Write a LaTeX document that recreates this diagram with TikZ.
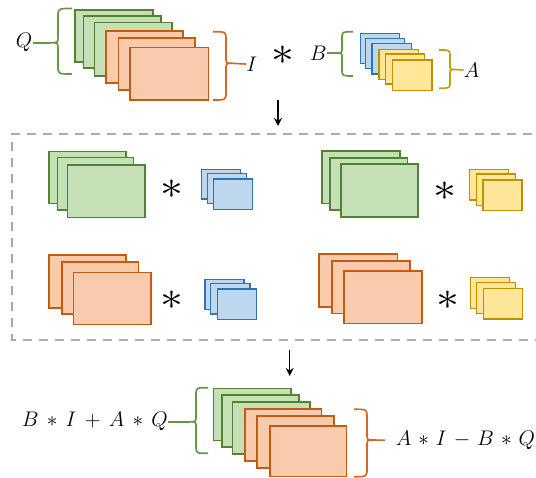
\documentclass[tikz,border=0pt]{standalone}
\usetikzlibrary{arrows.meta}
\definecolor{gfill}{HTML}{C5E0B4}
\definecolor{gdraw}{HTML}{548235}
\definecolor{ofill}{HTML}{F8CBAD}
\definecolor{odraw}{HTML}{C55A11}
\definecolor{bfill}{HTML}{BDD7EE}
\definecolor{bdraw}{HTML}{2E75B6}
\definecolor{yfill}{HTML}{FFE699}
\definecolor{ydraw}{HTML}{BF9000}
\definecolor{brgreen}{HTML}{649845}
\definecolor{brorange}{HTML}{D06A22}
\definecolor{brgold}{HTML}{C99A12}
\definecolor{dashgray}{HTML}{AAAAAA}
% #1 end x, #2 spine x, #3 tip x, #4 top y, #5 tip y, #6 bottom y, #7 end radius, #8 tip radius, #9 style
\newcommand\mybrace[9]{\draw[#9] (#1,#4) .. controls (#2,#4) .. (#2,#4+#7) -- (#2,#5-#8) .. controls (#2,#5) .. (#3,#5) .. controls (#2,#5) .. (#2,#5+#8) -- (#2,#6-#7) .. controls (#2,#6) .. (#1,#6);}
\tikzset{
  gbox/.style={fill=gfill,draw=gdraw,line width=1.2pt},
  obox/.style={fill=ofill,draw=odraw,line width=1.2pt},
  bbox/.style={fill=bfill,draw=bdraw,line width=1.1pt},
  ybox/.style={fill=yfill,draw=ydraw,line width=1.1pt},
  brace/.style={line width=1.25pt},
  lbl/.style={inner sep=0pt,font=\fontsize{14.4}{16}\selectfont,scale=1.1},
  bigstar/.style={inner sep=0pt,font=\fontsize{24.88}{26}\selectfont,xscale=1.38,yscale=1.2},
  arr/.style={line width=1pt,-{Stealth[length=6pt,width=6pt]}},
  dashbox/.style={draw=dashgray,line width=1.5pt,dash pattern=on 6.8pt off 5.2pt}
}
\begin{document}
\begin{tikzpicture}[x=0.75pt,y=-0.75pt]
\useasboundingbox (0,0) rectangle (536,478);

% ---------- top group: Q and I ----------
\draw[gbox] (75,10) rectangle (152.7,62.3);
\draw[gbox] (83.3,16) rectangle (161,68.3);
\draw[gbox] (94.3,22.7) rectangle (171.7,76);
\draw[obox] (106,31) rectangle (183,83);
\draw[obox] (118.3,38.3) rectangle (195,90.3);
\draw[obox] (130,47.7) rectangle (208.3,100);

\mybrace{72}{58}{50}{8.5}{42.7}{74}{8}{6}{brace,brgreen}
\coordinate (Qtip) at (50,42.7);
\node[lbl,anchor=east] (Q) at (32.5,42.7) {$Q$};
\draw[brace,brgreen] (Q.east) -- (Qtip);

\mybrace{213}{226}{232}{31.7}{63.3}{100}{8}{6}{brace,brorange}
\coordinate (Itip) at (232,63.3);
\node[lbl,anchor=west] (I) at (246,64) {$I$};
\draw[brace,brorange] (Itip) -- (I.west);

\node[bigstar] (s0) at (283,55) {$\ast$};

% ---------- top group: B and A ----------
\draw[bbox] (360.3,33.3) rectangle (399.7,63.3);
\draw[bbox] (365.3,38.3) rectangle (404.7,68.3);
\draw[bbox] (372,43.3) rectangle (411.3,74);
\draw[ybox] (379,49.3) rectangle (418.7,79.3);
\draw[ybox] (385.3,54) rectangle (424.7,84);
\draw[ybox] (392.3,60) rectangle (432,90.7);

\mybrace{353}{342}{336}{31.7}{53}{76}{7}{5}{brace,brgreen}
\coordinate (Btip) at (336,53);
\node[lbl,anchor=east] (B) at (327,53) {$B$};
\draw[brace,brgreen] (B.east) -- (Btip);

\mybrace{439}{450}{455}{50}{69.5}{88.3}{7}{5}{brace,brgold}
\coordinate (Atip) at (455,69.5);
\node[lbl,anchor=west] (A) at (463.5,70) {$A$};
\draw[brace,brgold] (Atip) -- (A.west);

% ---------- arrow 1 ----------
\coordinate (a1s) at (278,100);
\coordinate (a1e) at (278,126);
\draw[arr] (a1s) -- (a1e);

% ---------- dashed box ----------
\draw[dashbox] (548,134) -- (12.3,134) -- (12.3,340) -- (548,340);

% panel 1
\draw[gbox] (49,151.7) rectangle (126,203.3);
\draw[gbox] (57.3,157.7) rectangle (133.3,210);
\draw[gbox] (67.3,165) rectangle (145,217.3);
\node[bigstar] (s1) at (171.7,189) {$\ast$};
\draw[bbox] (201.7,169.3) rectangle (240.7,199);
\draw[bbox] (207.3,173.3) rectangle (246.7,203.3);
\draw[bbox] (213.3,179) rectangle (252.3,209.3);

% panel 2
\draw[gbox] (322,151) rectangle (399.7,203.3);
\draw[gbox] (329.7,158) rectangle (407.3,210);
\draw[gbox] (340.7,164) rectangle (418,216.7);
\node[bigstar] (s2) at (445.3,191) {$\ast$};
\draw[ybox] (469.7,169.3) rectangle (508.7,200);
\draw[ybox] (476.3,174) rectangle (515.3,205.7);
\draw[ybox] (483,180) rectangle (522,210.7);

% panel 3
\draw[obox] (49,255) rectangle (126,307.7);
\draw[obox] (61.7,261.7) rectangle (138.3,314);
\draw[obox] (73.3,272.3) rectangle (151,324.3);
\node[bigstar] (s3) at (171.7,300) {$\ast$};
\draw[bbox] (205,279.3) rectangle (244,309.3);
\draw[bbox] (210.7,283.3) rectangle (250,314);
\draw[bbox] (217.3,289) rectangle (256.7,319.3);

% panel 4
\draw[obox] (319,254) rectangle (397.3,306.7);
\draw[obox] (332,260.7) rectangle (409.7,313.3);
\draw[obox] (344,271) rectangle (422,323.3);
\node[bigstar] (s4) at (448,300) {$\ast$};
\draw[ybox] (470.3,277.3) rectangle (509.7,308.3);
\draw[ybox] (476.3,282.3) rectangle (515.3,313.3);
\draw[ybox] (483.7,288.3) rectangle (522.3,319);

% ---------- arrow 2 ----------
\coordinate (a2s) at (289.7,350);
\coordinate (a2e) at (289.7,376);
\draw[arr] (a2s) -- (a2e);

% ---------- bottom group ----------
\draw[gbox] (213.3,388.3) rectangle (290.7,440.3);
\draw[gbox] (221.7,395) rectangle (298.7,447);
\draw[gbox] (232.3,401.7) rectangle (309.7,453.7);
\draw[obox] (245,409) rectangle (321.3,461);
\draw[obox] (256.7,416) rectangle (333.7,468);
\draw[obox] (269.7,426) rectangle (346.3,476.5);

\mybrace{208}{196}{190}{387.7}{421.7}{453.3}{8}{6}{brace,brgreen}
\coordinate (BLtip) at (190,421.7);
\node[lbl,anchor=east] (BL) at (168,421.7) {$B\,\ast\,I\,+\,A\,\ast\,Q$};
\draw[brace,brgreen] (BL.east) -- (BLtip);

\mybrace{354}{367}{373}{409.3}{440}{476.7}{8}{6}{brace,brorange}
\coordinate (BRtip) at (373,440);
\node[lbl,anchor=west] (BR) at (395.5,440.5) {$A\mskip2mu\ast\mskip2mu I\mskip2mu-\mskip2mu B\mskip2mu\ast\mskip2mu Q$};
\draw[brace,brorange,shorten >=7.8pt] (BRtip) -- (BR.west);
\end{tikzpicture}
\end{document}
